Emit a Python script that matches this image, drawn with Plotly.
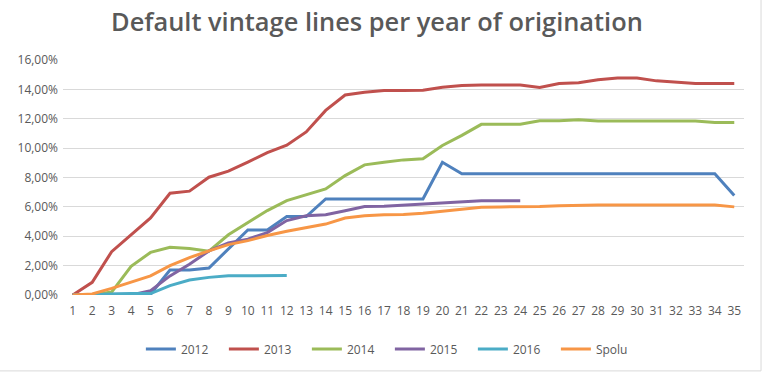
import plotly.graph_objects as go

months = list(range(1, 36))

s2012 = [0, 0.05, 0.05, 0.05, 0.05, 1.7, 1.7, 1.84, 3.14, 4.43, 4.43, 5.34, 5.34, 6.54, 6.54,
         6.54, 6.54, 6.54, 6.54, 9.04, 8.25, 8.25, 8.25, 8.25, 8.25, 8.25, 8.25, 8.25, 8.25, 8.25,
         8.25, 8.25, 8.25, 8.25, 6.77]
s2013 = [0, 0.86, 2.95, 4.1, 5.25, 6.93, 7.07, 8.02, 8.43, 9.05, 9.7, 10.2, 11.1, 12.57, 13.62,
         13.8, 13.92, 13.93, 13.94, 14.15, 14.27, 14.3, 14.3, 14.3, 14.13, 14.4, 14.45, 14.65, 14.78, 14.78,
         14.58, 14.47, 14.4, 14.4, 14.4]
s2014 = [0, 0, 0.2, 1.95, 2.9, 3.25, 3.16, 2.98, 4.1, 4.95, 5.75, 6.43, 6.8, 7.22, 8.13,
         8.86, 9.04, 9.2, 9.27, 10.18, 10.87, 11.62, 11.62, 11.62, 11.87, 11.87, 11.94, 11.84, 11.84, 11.84,
         11.84, 11.84, 11.84, 11.74, 11.74]
s2015 = [0, 0, 0, 0, 0.3, 1.3, 2.1, 3.0, 3.55, 3.8, 4.25, 5.07, 5.4, 5.47, 5.74,
         6.02, 6.04, 6.12, 6.2, 6.26, 6.33, 6.42, 6.42, 6.42]
s2016 = [0, 0.05, 0.07, 0.1, 0.1, 0.64, 1.02, 1.2, 1.31, 1.32, 1.32, 1.32]
spolu = [0, 0.07, 0.45, 0.86, 1.3, 2.0, 2.55, 3.0, 3.43, 3.7, 4.05, 4.34, 4.6, 4.83, 5.24,
         5.4, 5.47, 5.48, 5.56, 5.7, 5.8, 5.98, 6.0, 6.0, 6.02, 6.08, 6.12, 6.12, 6.12, 6.12,
         6.12, 6.12, 6.12, 6.12, 6.0]

series = [
    ("2012", s2012, "#4F81BD"),
    ("2013", s2013, "#C0504D"),
    ("2014", s2014, "#9BBB59"),
    ("2015", s2015, "#8064A2"),
    ("2016", s2016, "#4BACC6"),
    ("Spolu", spolu, "#F79646"),
]

fig = go.Figure()
for name, vals, color in series:
    fig.add_trace(go.Scatter(
        x=months[:len(vals)], y=[v / 100 for v in vals], name=name, mode="lines",
        line=dict(color=color, width=3),
    ))

fig.update_layout(
    width=768, height=379,
    margin=dict(l=63, r=24, t=60, b=84),
    paper_bgcolor="white", plot_bgcolor="white",
    separators=", ",
    font=dict(family="Open Sans", color="#595959", size=12),
    title=dict(text="Default vintage lines per year of origination",
               x=0.461, xanchor="center", xref="paper", y=0.942, yanchor="middle",
               font=dict(family="Open Sans", size=25.4, color="#595959", weight=600)),
    showlegend=True,
    legend=dict(orientation="h", x=0.48, xanchor="center", yref="container", y=0.079,
                yanchor="middle", font=dict(size=12, color="#595959"),
                entrywidth=38, entrywidthmode="pixels"),
    xaxis=dict(range=[0.5, 35.5], tickmode="array", tickvals=months,
               ticktext=[str(m) for m in months], showgrid=False, zeroline=False,
               showline=False, ticks="", ticklabelstandoff=7, automargin=False,
               tickfont=dict(size=12, color="#595959")),
    yaxis=dict(range=[0, 0.16], dtick=0.02, tickformat=".2%", showgrid=True,
               gridcolor="#D9D9D9", gridwidth=1, zeroline=False, showline=False,
               ticks="", ticklabelstandoff=4, automargin=False,
               tickfont=dict(size=12, color="#595959")),
)

fig.add_shape(type="line", xref="paper", yref="paper", x0=-0.2, x1=1.025, y0=-0.323, y1=-0.323,
              line=dict(color="#D9D9D9", width=1))
fig.add_shape(type="line", xref="paper", yref="paper", x0=1.025, x1=1.025, y0=-0.323, y1=1.3,
              line=dict(color="#D9D9D9", width=1))

fig.write_html("out.html", config={"displayModeBar": False},
               post_script="document.body.style.margin='0';")
